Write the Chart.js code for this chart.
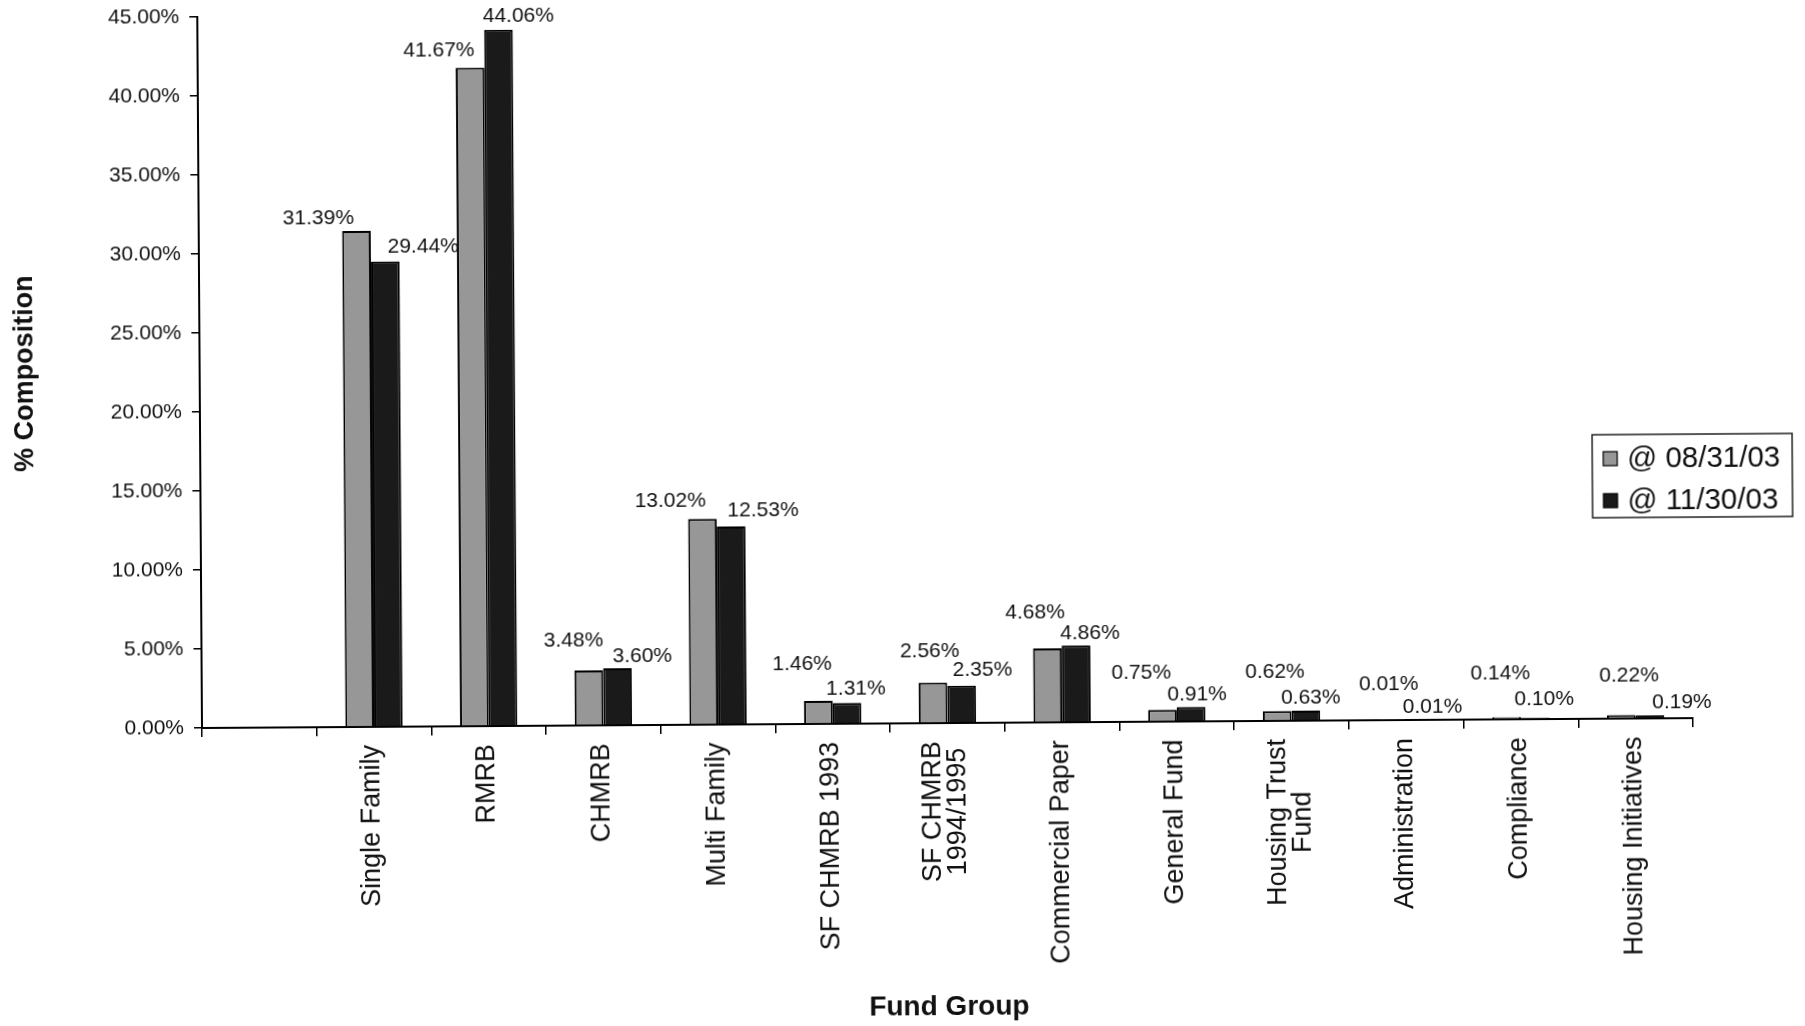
<!DOCTYPE html>
<html>
<head>
<meta charset="utf-8">
<title>% Composition by Fund Group</title>
<script src="https://cdn.jsdelivr.net/npm/chart.js@4.4.1/dist/chart.umd.min.js"></script>
<style>
  html, body { margin: 0; padding: 0; background: #fff; overflow: hidden; }
  #wrap {
    position: relative; width: 1805px; height: 1026px;
    transform: rotate(-0.38deg); transform-origin: 202px 728px;
  }
</style>
</head>
<body>
<div id="wrap"><canvas id="chart"></canvas></div>
<script>
// Fund groups (first slot intentionally left blank)
const categories = [
  '', 'Single Family', 'RMRB', 'CHMRB', 'Multi Family', 'SF CHMRB 1993',
  ['SF CHMRB', '1994/1995'], 'Commercial Paper', 'General Fund',
  ['Housing Trust', 'Fund'], 'Administration', 'Compliance', 'Housing Initiatives'
];
const seriesNames = ['@ 08/31/03', '@ 11/30/03'];
// % composition at each date
const aug03 = [null, 31.39, 41.67, 3.48, 13.02, 1.46, 2.56, 4.68, 0.75, 0.62, 0.01, 0.14, 0.22];
const nov03 = [null, 29.44, 44.06, 3.60, 12.53, 1.31, 2.35, 4.86, 0.91, 0.63, 0.01, 0.10, 0.19];
const yTicks = [0, 5, 10, 15, 20, 25, 30, 35, 40, 45];

// value-label nudges (px) relative to the top centre of each bar
const labelShiftX = [
  [0, -38, -31, -15, -32, -16, -3, -12, -21, -2, -3, -6, 8],
  [0, 38, 20, 25, 32, 9, 21, 14, 6, 5, 12, 9, 32]
];
const labelLift = [
  [0, 13, 17, 30, 18, 37, 31, 36, 37, 39, 36, 44, 39],
  [0, 15, 14, 12, 16, 14, 16, 12, 12, 13, 13, 18, 13]
];

const FONT = '"Liberation Sans", Arial, Helvetica, sans-serif';
const fills = ['#979797', '#1a1a1a'];
const X_LABEL_SIZE = 27;
const X_LINE_GAP = 25;

// value labels above bars
const valueLabels = {
  id: 'valueLabels',
  afterDatasetsDraw(chart) {
    const ctx = chart.ctx;
    ctx.save();
    ctx.font = '21px ' + FONT;
    ctx.fillStyle = '#111';
    ctx.textAlign = 'center';
    ctx.textBaseline = 'middle';
    chart.data.datasets.forEach((ds, di) => {
      const meta = chart.getDatasetMeta(di);
      meta.data.forEach((bar, i) => {
        const v = ds.data[i];
        if (v === null || v === undefined) return;
        ctx.fillText(v.toFixed(2) + '%', bar.x + labelShiftX[di][i], bar.y - labelLift[di][i]);
      });
    });
    ctx.restore();
  }
};

// vertical category labels: block hangs from the axis, lines centred within the block
const categoryLabels = {
  id: 'categoryLabels',
  afterDraw(chart) {
    const xs = chart.scales.x;
    const ctx = chart.ctx;
    ctx.save();
    ctx.font = X_LABEL_SIZE + 'px ' + FONT;
    ctx.fillStyle = '#111';
    ctx.textAlign = 'center';
    ctx.textBaseline = 'middle';
    chart.data.labels.forEach((lab, i) => {
      const lines = Array.isArray(lab) ? lab : [lab];
      if (!lines.join('')) return;
      const w = Math.max(...lines.map(l => ctx.measureText(l).width));
      const px = xs.getPixelForTick(i);
      ctx.save();
      ctx.translate(px - 2, xs.top + 18);
      ctx.rotate(-Math.PI / 2);
      lines.forEach((ln, j) => {
        ctx.fillText(ln, -w / 2, (j - (lines.length - 1) / 2) * X_LINE_GAP);
      });
      ctx.restore();
    });
    ctx.restore();
  }
};

// boxed legend at the right
const boxLegend = {
  id: 'boxLegend',
  afterDraw(chart) {
    const ctx = chart.ctx;
    const bx = 1594, by = 444, bw = 200, bh = 83;
    ctx.save();
    ctx.strokeStyle = '#222';
    ctx.lineWidth = 1.5;
    ctx.strokeRect(bx, by, bw, bh);
    ctx.font = '29.5px ' + FONT;
    ctx.textBaseline = 'middle';
    ctx.textAlign = 'left';
    chart.data.datasets.forEach((ds, i) => {
      const cy = by + 24 + i * 42;
      ctx.fillStyle = ds.backgroundColor;
      ctx.fillRect(bx + 11, cy - 7, 14, 14);
      ctx.strokeStyle = '#000';
      ctx.lineWidth = 1.2;
      ctx.strokeRect(bx + 11, cy - 7, 14, 14);
      ctx.fillStyle = '#111';
      ctx.fillText(ds.label, bx + 35, cy + 1);
    });
    ctx.restore();
  }
};

new Chart(document.getElementById('chart'), {
  type: 'bar',
  data: {
    labels: categories,
    datasets: [
      { label: seriesNames[0], data: aug03, backgroundColor: fills[0], borderColor: '#000', borderWidth: 2 },
      { label: seriesNames[1], data: nov03, backgroundColor: fills[1], borderColor: '#000', borderWidth: 2 }
    ]
  },
  options: {
    responsive: true,
    maintainAspectRatio: false,
    animation: false,
    datasets: { bar: { categoryPercentage: 0.5, barPercentage: 1.0 } },
    layout: { padding: { top: 17, right: 112, bottom: 0, left: 0 } },
    plugins: { legend: { display: false }, tooltip: { enabled: false } },
    scales: {
      x: {
        grid: { display: true, drawOnChartArea: false, drawTicks: true, tickLength: 9, color: '#000', lineWidth: 1.5, offset: true },
        border: { display: true, color: '#000', width: 2 },
        ticks: { display: false, autoSkip: false },
        title: {
          display: true, text: 'Fund Group', color: '#111',
          font: { family: FONT, size: 28, weight: 'bold', lineHeight: 1.0 }, padding: { top: 0, bottom: 0 }
        },
        afterFit(scale) { scale.height = 298; }
      },
      y: {
        min: 0, max: 45,
        afterBuildTicks(scale) { scale.ticks = yTicks.map(v => ({ value: v })); },
        grid: { display: true, drawOnChartArea: false, drawTicks: true, tickLength: 8, color: '#000', lineWidth: 1.5 },
        border: { display: true, color: '#000', width: 2 },
        ticks: {
          padding: 10, color: '#111',
          font: { family: FONT, size: 21 },
          callback: v => Number(v).toFixed(2) + '%'
        },
        title: {
          display: true, text: '% Composition', color: '#111',
          font: { family: FONT, size: 27, weight: 'bold' }, padding: { top: 11, bottom: 0 }
        },
        afterFit(scale) {
          scale.width = 202;
          scale.paddingTop = 0;
          scale.paddingBottom = 0;
        }
      }
    }
  },
  plugins: [valueLabels, categoryLabels, boxLegend]
});
</script>
</body>
</html>
